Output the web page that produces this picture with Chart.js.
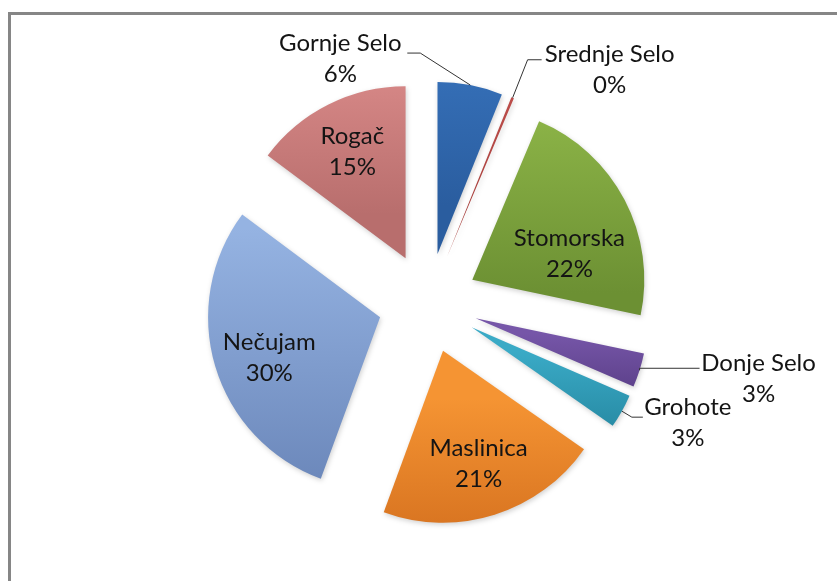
<!DOCTYPE html>
<html>
<head>
<meta charset="utf-8">
<script src="https://cdn.jsdelivr.net/npm/chart.js@4.4.0/dist/chart.umd.min.js"></script>
<style>
  html, body { margin: 0; padding: 0; background: #fff; }
</style>
</head>
<body>
<canvas id="myChart" width="837" height="581"></canvas>
<script>
const places = ['Gornje Selo', 'Srednje Selo', 'Stomorska', 'Donje Selo', 'Grohote', 'Maslinica', 'Nečujam', 'Rogač'];
const shares = [6.1, 0.25, 21.95, 3.2, 3.2, 20.9, 29.6, 14.8];
const lightColors = ['#3874be', '#c4524f', '#8fb749', '#7656a8', '#3aaac6', '#f59433', '#95b3e2', '#de8e8d'];
const darkColors = ['#2a5d9f', '#a8403d', '#6c9033', '#573c84', '#22829b', '#cf6a1b', '#6a86b9', '#b86e6d'];

const EXPLODE = 50;
const LINE = 31;
const FONT = '24px Lato';

// small slices get a leader line: elbow/end of line and text centre, relative to the arc's outer midpoint
const callouts = {
  'Gornje Selo': { line: [[-50, -32], [-63, -32]], text: [-130, -26] },
  'Srednje Selo': { line: [[15, -38], [29, -38]], text: [97, -28] },
  'Donje Selo': { line: [[0, -2], [60, -2]], text: [119, 8] },
  'Grohote': { line: [[10, 6], [21, 6]], text: [66, 12] }
};
const nudges = {
  'Stomorska': [-8, 29],
  'Nečujam': [3, 7]
};

const frame = {
  id: 'frame',
  beforeDraw(chart) {
    const ctx = chart.ctx;
    ctx.save();
    ctx.strokeStyle = '#868686';
    ctx.lineWidth = 3;
    ctx.strokeRect(9.5, 13.5, 1000, 1000);
    ctx.restore();
  }
};

const explode = {
  id: 'explode',
  beforeDatasetDraw(chart, args) {
    const ctx = chart.ctx;
    args.meta.data.forEach((arc, i) => {
      const mid = (arc.startAngle + arc.endAngle) / 2;
      const dx = Math.cos(mid) * EXPLODE;
      const dy = Math.sin(mid) * EXPLODE;
      // vertical extent of the slice for its own gradient
      let yMin = arc.y, yMax = arc.y;
      for (let k = 0; k <= 40; k++) {
        const a = arc.startAngle + (arc.endAngle - arc.startAngle) * k / 40;
        const y = arc.y + Math.sin(a) * arc.outerRadius;
        yMin = Math.min(yMin, y);
        yMax = Math.max(yMax, y);
      }
      const g = ctx.createLinearGradient(0, yMin + dy, 0, yMax + dy + 1);
      g.addColorStop(0, lightColors[i]);
      g.addColorStop(1, darkColors[i]);
      arc.options.backgroundColor = g;
      ctx.save();
      ctx.shadowColor = 'rgba(0,0,0,0.18)';
      ctx.shadowBlur = 5;
      ctx.shadowOffsetX = 1;
      ctx.shadowOffsetY = 2;
      ctx.translate(dx, dy);
      arc.draw(ctx);
      ctx.restore();
    });
    return false;
  }
};

const sliceLabels = {
  id: 'sliceLabels',
  afterDatasetsDraw(chart) {
    const ctx = chart.ctx;
    const meta = chart.getDatasetMeta(0);
    const total = shares.reduce((a, b) => a + b, 0);
    ctx.save();
    ctx.font = FONT;
    ctx.textAlign = 'center';
    ctx.textBaseline = 'middle';
    ctx.fillStyle = '#141414';
    ctx.strokeStyle = '#333';
    ctx.lineWidth = 1;
    meta.data.forEach((arc, i) => {
      const mid = (arc.startAngle + arc.endAngle) / 2;
      const ox = arc.x + Math.cos(mid) * EXPLODE;
      const oy = arc.y + Math.sin(mid) * EXPLODE;
      const pct = Math.round(shares[i] / total * 100) + '%';
      const c = callouts[places[i]];
      let tx, ty;
      if (c) {
        const ax = ox + Math.cos(mid) * arc.outerRadius;
        const ay = oy + Math.sin(mid) * arc.outerRadius;
        ctx.beginPath();
        ctx.moveTo(ax, ay);
        c.line.forEach(p => ctx.lineTo(ax + p[0], ay + p[1]));
        ctx.stroke();
        tx = ax + c.text[0];
        ty = ay + c.text[1];
      } else {
        const n = nudges[places[i]] || [0, 0];
        tx = ox + Math.cos(mid) * arc.outerRadius * 0.69 + n[0];
        ty = oy + Math.sin(mid) * arc.outerRadius * 0.69 + n[1];
      }
      ctx.fillText(places[i], tx, ty - LINE / 2);
      ctx.fillText(pct, tx, ty + LINE / 2);
    });
    ctx.restore();
  }
};

const ctx = document.getElementById('myChart').getContext('2d');
const chart = new Chart(ctx, {
  type: 'pie',
  data: {
    labels: places,
    datasets: [
      {
        data: shares,
        backgroundColor: lightColors,
        borderWidth: 0,
        radius: 172
      }
    ]
  },
  options: {
    responsive: false,
    animation: false,
    events: [],
    layout: { padding: { left: 38, right: 19, top: 44, bottom: 19 } },
    plugins: {
      legend: { display: false },
      tooltip: { enabled: false }
    }
  },
  plugins: [frame, explode, sliceLabels]
});
</script>
</body>
</html>
